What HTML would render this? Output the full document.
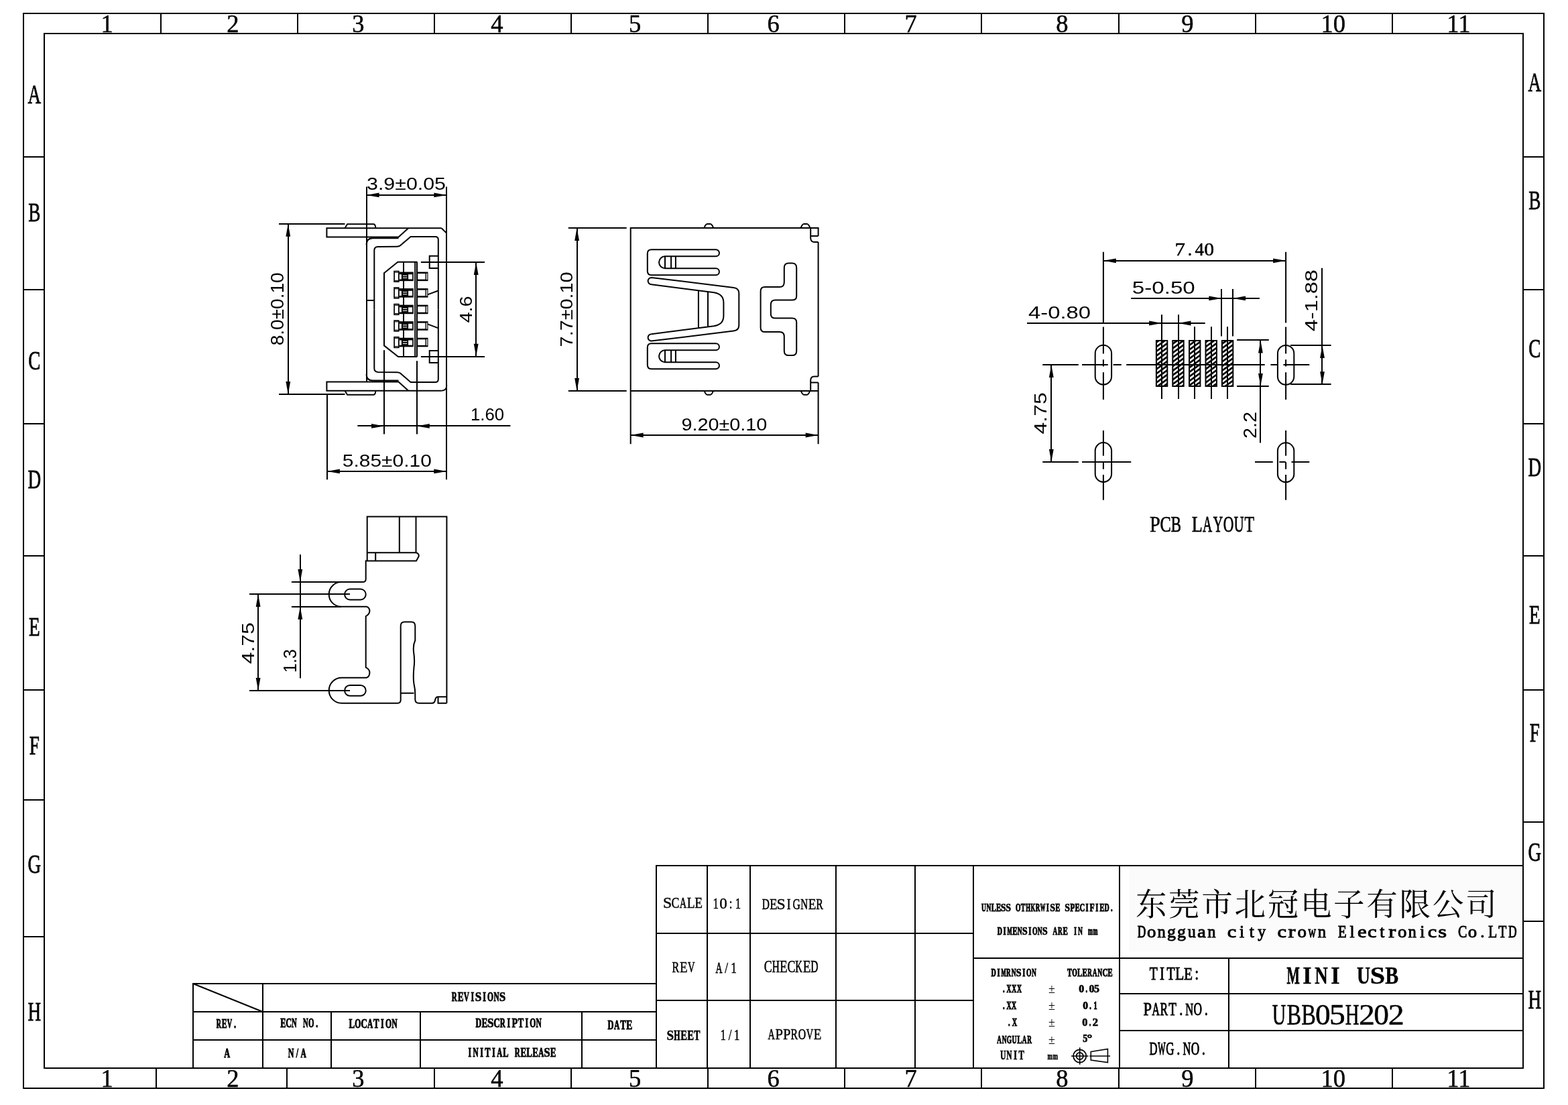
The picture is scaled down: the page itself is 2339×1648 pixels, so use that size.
<!DOCTYPE html>
<html><head><meta charset="utf-8"><title>MINI USB UBB05H202</title>
<style>
html,body{margin:0;padding:0;background:#fff}
svg{display:block;filter:grayscale(1)}
svg text{font-family:"Liberation Serif",serif;fill:#000;stroke:none}
</style></head><body>
<svg width="2339" height="1648" viewBox="0 0 2339 1648" fill="none" stroke="#000">
<defs><pattern id="hatch" patternUnits="userSpaceOnUse" width="5.4" height="10" patternTransform="rotate(54)"><rect width="2.7" height="10" fill="#000" stroke="none"/></pattern></defs>
<rect x="35" y="20" width="2268" height="1603" stroke-width="2" fill="none"/>
<rect x="66" y="50" width="2206" height="1543" stroke-width="2" fill="none"/>
<path d="M240 20L240 50" stroke-width="2"/>
<path d="M444 20L444 50" stroke-width="2"/>
<path d="M648 20L648 50" stroke-width="2"/>
<path d="M852 20L852 50" stroke-width="2"/>
<path d="M1056 20L1056 50" stroke-width="2"/>
<path d="M1260 20L1260 50" stroke-width="2"/>
<path d="M1464 20L1464 50" stroke-width="2"/>
<path d="M1669 20L1669 50" stroke-width="2"/>
<path d="M1873 20L1873 50" stroke-width="2"/>
<path d="M2077 20L2077 50" stroke-width="2"/>
<path d="M233 1593L233 1623" stroke-width="2"/>
<path d="M428 1593L428 1623" stroke-width="2"/>
<path d="M648 1593L648 1623" stroke-width="2"/>
<path d="M852 1593L852 1623" stroke-width="2"/>
<path d="M1056 1593L1056 1623" stroke-width="2"/>
<path d="M1260 1593L1260 1623" stroke-width="2"/>
<path d="M1464 1593L1464 1623" stroke-width="2"/>
<path d="M1669 1593L1669 1623" stroke-width="2"/>
<path d="M1873 1593L1873 1623" stroke-width="2"/>
<path d="M2077 1593L2077 1623" stroke-width="2"/>
<path d="M35 234L66 234" stroke-width="2"/>
<path d="M35 432L66 432" stroke-width="2"/>
<path d="M35 632L66 632" stroke-width="2"/>
<path d="M35 829L66 829" stroke-width="2"/>
<path d="M35 1029L66 1029" stroke-width="2"/>
<path d="M35 1193L66 1193" stroke-width="2"/>
<path d="M35 1397L66 1397" stroke-width="2"/>
<path d="M2272 234L2303 234" stroke-width="2"/>
<path d="M2272 432L2303 432" stroke-width="2"/>
<path d="M2272 632L2303 632" stroke-width="2"/>
<path d="M2272 829L2303 829" stroke-width="2"/>
<path d="M2272 1029L2303 1029" stroke-width="2"/>
<path d="M2272 1226L2303 1226" stroke-width="2"/>
<path d="M2272 1374L2303 1374" stroke-width="2"/>
<text transform="translate(159.6 47.7) scale(0.95 1)" font-size="38.5" text-anchor="middle" style="stroke:#000;stroke-width:0.5">1</text>
<text transform="translate(159.6 1620.9) scale(0.95 1)" font-size="38.5" text-anchor="middle" style="stroke:#000;stroke-width:0.5">1</text>
<text transform="translate(347.3 47.7) scale(0.95 1)" font-size="38.5" text-anchor="middle" style="stroke:#000;stroke-width:0.5">2</text>
<text transform="translate(347.3 1620.9) scale(0.95 1)" font-size="38.5" text-anchor="middle" style="stroke:#000;stroke-width:0.5">2</text>
<text transform="translate(534.5 47.7) scale(0.95 1)" font-size="38.5" text-anchor="middle" style="stroke:#000;stroke-width:0.5">3</text>
<text transform="translate(534.5 1620.9) scale(0.95 1)" font-size="38.5" text-anchor="middle" style="stroke:#000;stroke-width:0.5">3</text>
<text transform="translate(741.5 47.7) scale(0.95 1)" font-size="38.5" text-anchor="middle" style="stroke:#000;stroke-width:0.5">4</text>
<text transform="translate(741.5 1620.9) scale(0.95 1)" font-size="38.5" text-anchor="middle" style="stroke:#000;stroke-width:0.5">4</text>
<text transform="translate(947.1 47.7) scale(0.95 1)" font-size="38.5" text-anchor="middle" style="stroke:#000;stroke-width:0.5">5</text>
<text transform="translate(947.1 1620.9) scale(0.95 1)" font-size="38.5" text-anchor="middle" style="stroke:#000;stroke-width:0.5">5</text>
<text transform="translate(1153.6 47.7) scale(0.95 1)" font-size="38.5" text-anchor="middle" style="stroke:#000;stroke-width:0.5">6</text>
<text transform="translate(1153.6 1620.9) scale(0.95 1)" font-size="38.5" text-anchor="middle" style="stroke:#000;stroke-width:0.5">6</text>
<text transform="translate(1358.7 47.7) scale(0.95 1)" font-size="38.5" text-anchor="middle" style="stroke:#000;stroke-width:0.5">7</text>
<text transform="translate(1358.7 1620.9) scale(0.95 1)" font-size="38.5" text-anchor="middle" style="stroke:#000;stroke-width:0.5">7</text>
<text transform="translate(1584.5 47.7) scale(0.95 1)" font-size="38.5" text-anchor="middle" style="stroke:#000;stroke-width:0.5">8</text>
<text transform="translate(1584.5 1620.9) scale(0.95 1)" font-size="38.5" text-anchor="middle" style="stroke:#000;stroke-width:0.5">8</text>
<text transform="translate(1771.5 47.7) scale(0.95 1)" font-size="38.5" text-anchor="middle" style="stroke:#000;stroke-width:0.5">9</text>
<text transform="translate(1771.5 1620.9) scale(0.95 1)" font-size="38.5" text-anchor="middle" style="stroke:#000;stroke-width:0.5">9</text>
<text transform="translate(1988.8 47.7) scale(0.95 1)" font-size="38.5" text-anchor="middle" style="stroke:#000;stroke-width:0.5">10</text>
<text transform="translate(1988.8 1620.9) scale(0.95 1)" font-size="38.5" text-anchor="middle" style="stroke:#000;stroke-width:0.5">10</text>
<text transform="translate(2175.8 47.7) scale(0.95 1)" font-size="38.5" text-anchor="middle" style="stroke:#000;stroke-width:0.5">11</text>
<text transform="translate(2175.8 1620.9) scale(0.95 1)" font-size="38.5" text-anchor="middle" style="stroke:#000;stroke-width:0.5">11</text>
<text transform="translate(51.3 154) scale(0.68 1)" font-size="40" text-anchor="middle" style="stroke:#000;stroke-width:0.8">A</text>
<text transform="translate(51.3 329.8) scale(0.68 1)" font-size="40" text-anchor="middle" style="stroke:#000;stroke-width:0.8">B</text>
<text transform="translate(51.3 551) scale(0.68 1)" font-size="40" text-anchor="middle" style="stroke:#000;stroke-width:0.8">C</text>
<text transform="translate(51.3 728) scale(0.68 1)" font-size="40" text-anchor="middle" style="stroke:#000;stroke-width:0.8">D</text>
<text transform="translate(51.3 948.2) scale(0.68 1)" font-size="40" text-anchor="middle" style="stroke:#000;stroke-width:0.8">E</text>
<text transform="translate(51.3 1124.8) scale(0.68 1)" font-size="40" text-anchor="middle" style="stroke:#000;stroke-width:0.8">F</text>
<text transform="translate(51.3 1302) scale(0.68 1)" font-size="40" text-anchor="middle" style="stroke:#000;stroke-width:0.8">G</text>
<text transform="translate(51.3 1522) scale(0.68 1)" font-size="40" text-anchor="middle" style="stroke:#000;stroke-width:0.8">H</text>
<text transform="translate(2289.3 136.1) scale(0.68 1)" font-size="40" text-anchor="middle" style="stroke:#000;stroke-width:0.8">A</text>
<text transform="translate(2289.3 311.8) scale(0.68 1)" font-size="40" text-anchor="middle" style="stroke:#000;stroke-width:0.8">B</text>
<text transform="translate(2289.3 533) scale(0.68 1)" font-size="40" text-anchor="middle" style="stroke:#000;stroke-width:0.8">C</text>
<text transform="translate(2289.3 709.8) scale(0.68 1)" font-size="40" text-anchor="middle" style="stroke:#000;stroke-width:0.8">D</text>
<text transform="translate(2289.3 930) scale(0.68 1)" font-size="40" text-anchor="middle" style="stroke:#000;stroke-width:0.8">E</text>
<text transform="translate(2289.3 1106.2) scale(0.68 1)" font-size="40" text-anchor="middle" style="stroke:#000;stroke-width:0.8">F</text>
<text transform="translate(2289.3 1283.5) scale(0.68 1)" font-size="40" text-anchor="middle" style="stroke:#000;stroke-width:0.8">G</text>
<text transform="translate(2289.3 1503.5) scale(0.68 1)" font-size="40" text-anchor="middle" style="stroke:#000;stroke-width:0.8">H</text>
<rect x="1684" y="1292" width="587" height="127" fill="#fbfbfb" stroke="none"/>
<path d="M288 1593V1467H979 M288 1509H979 M288 1551H979 M392 1467V1593 M494 1509V1593 M627 1509V1593 M868 1509V1593 M288 1467L392 1509" stroke-width="2" fill="none"/>
<path d="M979 1593V1291H2272 M1055 1291V1593 M1119 1291V1593 M1247 1291V1593 M1365 1291V1593 M1452 1291V1593 M979 1392H1452 M979 1492H1452 M1452 1429H2272 M1670 1291V1593 M1833 1429V1593 M1670 1482H2272 M1670 1537H2272" stroke-width="2" fill="none"/>
<text transform="scale(0.99 1)" x="1005.78" y="1354.3" font-size="23.97" text-anchor="middle" style="stroke:#000;stroke-width:0.45">S</text>
<text transform="scale(0.74 1)" x="1361.44" y="1354.3" font-size="23.97" text-anchor="middle" style="stroke:#000;stroke-width:0.53">C</text>
<text transform="scale(0.6 1)" x="1698.14" y="1354.3" font-size="23.97" text-anchor="middle" style="stroke:#000;stroke-width:0.73">A</text>
<text transform="scale(0.81 1)" x="1272.55" y="1354.3" font-size="23.97" text-anchor="middle" style="stroke:#000;stroke-width:0.45">L</text>
<text transform="scale(0.8 1)" x="1302.78" y="1354.3" font-size="23.97" text-anchor="middle" style="stroke:#000;stroke-width:0.45">E</text>
<text transform="scale(0.72 1)" x="1482.91 1513.95 1528.95" y="1355" font-size="23.22" text-anchor="middle" style="stroke:#000;stroke-width:0.56">1:1</text>
<text transform="scale(0.99 1)" x="1089.87" y="1355" font-size="23.22" text-anchor="middle" style="stroke:#000;stroke-width:0.45">0</text>
<text transform="scale(0.64 1)" x="1784.77" y="1356" font-size="24.12" text-anchor="middle" style="stroke:#000;stroke-width:0.67">D</text>
<text transform="scale(0.79 1)" x="1460.62 1533.56" y="1356" font-size="24.12" text-anchor="middle" style="stroke:#000;stroke-width:0.46">EE</text>
<text transform="scale(0.98 1)" x="1188.93" y="1356" font-size="24.12" text-anchor="middle" style="stroke:#000;stroke-width:0.45">S</text>
<text transform="scale(0.72 1)" x="1634.35" y="1356" font-size="24.12" text-anchor="middle" style="stroke:#000;stroke-width:0.56">I</text>
<text transform="scale(0.65 1)" x="1827.98" y="1356" font-size="24.12" text-anchor="middle" style="stroke:#000;stroke-width:0.66">G</text>
<text transform="scale(0.63 1)" x="1904.35" y="1356" font-size="24.12" text-anchor="middle" style="stroke:#000;stroke-width:0.69">N</text>
<text transform="scale(0.66 1)" x="1852.45" y="1356" font-size="24.12" text-anchor="middle" style="stroke:#000;stroke-width:0.65">R</text>
<text transform="scale(0.68 1)" x="1482.25" y="1450.5" font-size="23.51" text-anchor="middle" style="stroke:#000;stroke-width:0.62">R</text>
<text transform="scale(0.81 1)" x="1259.07" y="1450.5" font-size="23.51" text-anchor="middle" style="stroke:#000;stroke-width:0.45">E</text>
<text transform="scale(0.62 1)" x="1663.15" y="1450.5" font-size="23.51" text-anchor="middle" style="stroke:#000;stroke-width:0.7">V</text>
<text transform="scale(0.58 1)" x="1849.19" y="1450.8" font-size="23.82" text-anchor="middle" style="stroke:#000;stroke-width:0.76">A</text>
<text transform="scale(0.72 1)" x="1505.07 1520.15" y="1450.8" font-size="23.82" text-anchor="middle" style="stroke:#000;stroke-width:0.56">/1</text>
<text transform="scale(0.73 1)" x="1569.58 1616.95" y="1450.5" font-size="24.43" text-anchor="middle" style="stroke:#000;stroke-width:0.55">CC</text>
<text transform="scale(0.63 1)" x="1836.82" y="1450.5" font-size="24.43" text-anchor="middle" style="stroke:#000;stroke-width:0.69">H</text>
<text transform="scale(0.78 1)" x="1498.62 1542.96" y="1450.5" font-size="24.43" text-anchor="middle" style="stroke:#000;stroke-width:0.48">EE</text>
<text transform="scale(0.61 1)" x="1953.51" y="1450.5" font-size="24.43" text-anchor="middle" style="stroke:#000;stroke-width:0.72">K</text>
<text transform="scale(0.64 1)" x="1898.32" y="1450.5" font-size="24.43" text-anchor="middle" style="stroke:#000;stroke-width:0.67">D</text>
<text transform="scale(0.92 1)" x="1086.83" y="1550.8" font-size="20.76" text-anchor="middle" font-weight="bold" style="stroke:#000;stroke-width:0.45">S</text>
<text transform="scale(0.57 1)" x="1771.87" y="1550.8" font-size="20.76" text-anchor="middle" font-weight="bold" style="stroke:#000;stroke-width:0.77">H</text>
<text transform="scale(0.71 1)" x="1436.9 1450.96" y="1550.8" font-size="20.76" text-anchor="middle" font-weight="bold" style="stroke:#000;stroke-width:0.58">EE</text>
<text transform="scale(0.66 1)" x="1575.62" y="1550.8" font-size="20.76" text-anchor="middle" font-weight="bold" style="stroke:#000;stroke-width:0.65">T</text>
<text transform="scale(0.72 1)" x="1498.15 1512.64 1526.48" y="1550.8" font-size="23.08" text-anchor="middle" style="stroke:#000;stroke-width:0.56">1/1</text>
<text transform="scale(0.6 1)" x="1917.99 2013.26" y="1550.2" font-size="23.97" text-anchor="middle" style="stroke:#000;stroke-width:0.73">AV</text>
<text transform="scale(0.86 1)" x="1351.58 1364.87" y="1550.2" font-size="23.97" text-anchor="middle" style="stroke:#000;stroke-width:0.45">PP</text>
<text transform="scale(0.66 1)" x="1795.28 1812.92" y="1550.2" font-size="23.97" text-anchor="middle" style="stroke:#000;stroke-width:0.65">RO</text>
<text transform="scale(0.79 1)" x="1543.78" y="1550.2" font-size="23.97" text-anchor="middle" style="stroke:#000;stroke-width:0.46">E</text>
<text transform="scale(0.56 1)" x="2620.48 2712.24" y="1359.2" font-size="17.1" text-anchor="middle" font-weight="bold" style="stroke:#000;stroke-width:1.04">UO</text>
<text transform="scale(0.55 1)" x="2681.42" y="1359.2" font-size="17.1" text-anchor="middle" font-weight="bold" style="stroke:#000;stroke-width:1.05">N</text>
<text transform="scale(0.62 1)" x="2390.78 2520.81 2615.53 2639.21 2674.73" y="1359.2" font-size="17.1" text-anchor="middle" font-weight="bold" style="stroke:#000;stroke-width:0.95">LIII.</text>
<text transform="scale(0.63 1)" x="2364.57 2504.39 2551 2562.59 2609.26" y="1359.2" font-size="17.1" text-anchor="middle" font-weight="bold" style="stroke:#000;stroke-width:0.94">EEECE</text>
<text transform="scale(0.82 1)" x="1825.31 1834.27 1914.84 1941.69" y="1359.2" font-size="17.1" text-anchor="middle" font-weight="bold" style="stroke:#000;stroke-width:0.7">SSSS</text>
<text transform="scale(0.59 1)" x="2586.77" y="1359.2" font-size="17.1" text-anchor="middle" font-weight="bold" style="stroke:#000;stroke-width:0.99">T</text>
<text transform="scale(0.51 1)" x="3006.93" y="1359.2" font-size="17.1" text-anchor="middle" font-weight="bold" style="stroke:#000;stroke-width:1.11">H</text>
<text transform="scale(0.5 1)" x="3081.68" y="1359.2" font-size="17.1" text-anchor="middle" font-weight="bold" style="stroke:#000;stroke-width:1.12">K</text>
<text transform="scale(0.53 1)" x="2920.95" y="1359.2" font-size="17.1" text-anchor="middle" font-weight="bold" style="stroke:#000;stroke-width:1.08">R</text>
<text transform="scale(0.45 1)" x="3456.81" y="1359.2" font-size="17.1" text-anchor="middle" font-weight="bold" style="stroke:#000;stroke-width:1.19">W</text>
<text transform="scale(0.67 1)" x="2387.56" y="1359.2" font-size="17.1" text-anchor="middle" font-weight="bold" style="stroke:#000;stroke-width:0.88">P</text>
<text transform="scale(0.69 1)" x="2361.09" y="1359.2" font-size="17.1" text-anchor="middle" font-weight="bold" style="stroke:#000;stroke-width:0.85">F</text>
<text transform="scale(0.58 1)" x="2846.8" y="1359.2" font-size="17.1" text-anchor="middle" font-weight="bold" style="stroke:#000;stroke-width:1.01">D</text>
<text transform="scale(0.59 1)" x="2527.66" y="1394" font-size="17.1" text-anchor="middle" font-weight="bold" style="stroke:#000;stroke-width:0.99">D</text>
<text transform="scale(0.62 1)" x="2417.24 2477.92 2587.16" y="1394" font-size="17.1" text-anchor="middle" font-weight="bold" style="stroke:#000;stroke-width:0.95">III</text>
<text transform="scale(0.45 1)" x="3347.24" y="1394" font-size="17.1" text-anchor="middle" font-weight="bold" style="stroke:#000;stroke-width:1.19">M</text>
<text transform="scale(0.65 1)" x="2329.12 2444.89" y="1394" font-size="17.1" text-anchor="middle" font-weight="bold" style="stroke:#000;stroke-width:0.91">EE</text>
<text transform="scale(0.56 1)" x="2716.49 2770.24 2877.74" y="1394" font-size="17.1" text-anchor="middle" font-weight="bold" style="stroke:#000;stroke-width:1.04">NNN</text>
<text transform="scale(0.84 1)" x="1819.89 1855.73" y="1394" font-size="17.1" text-anchor="middle" font-weight="bold" style="stroke:#000;stroke-width:0.7">SS</text>
<text transform="scale(0.57 1)" x="2708.49" y="1394" font-size="17.1" text-anchor="middle" font-weight="bold" style="stroke:#000;stroke-width:1.02">O</text>
<text transform="scale(0.55 1)" x="2861.68" y="1394" font-size="17.1" text-anchor="middle" font-weight="bold" style="stroke:#000;stroke-width:1.05">A</text>
<text transform="scale(0.54 1)" x="2928.41" y="1394" font-size="17.1" text-anchor="middle" font-weight="bold" style="stroke:#000;stroke-width:1.06">R</text>
<text transform="scale(0.49 1)" x="3319.53 3334.89" y="1394" font-size="17.1" text-anchor="middle" font-weight="bold" style="stroke:#000;stroke-width:1.13">mm</text>
<text transform="scale(0.59 1)" x="2511.94" y="1456.3" font-size="17.1" text-anchor="middle" font-weight="bold" style="stroke:#000;stroke-width:0.99">D</text>
<text transform="scale(0.62 1)" x="2402.34 2463.36" y="1456.3" font-size="17.1" text-anchor="middle" font-weight="bold" style="stroke:#000;stroke-width:0.95">II</text>
<text transform="scale(0.45 1)" x="3326.8" y="1456.3" font-size="17.1" text-anchor="middle" font-weight="bold" style="stroke:#000;stroke-width:1.19">M</text>
<text transform="scale(0.55 1)" x="2735.39" y="1456.3" font-size="17.1" text-anchor="middle" font-weight="bold" style="stroke:#000;stroke-width:1.05">R</text>
<text transform="scale(0.56 1)" x="2700.22 2754.26" y="1456.3" font-size="17.1" text-anchor="middle" font-weight="bold" style="stroke:#000;stroke-width:1.04">NN</text>
<text transform="scale(0.85 1)" x="1787.81" y="1456.3" font-size="17.1" text-anchor="middle" font-weight="bold" style="stroke:#000;stroke-width:0.7">S</text>
<text transform="scale(0.57 1)" x="2692.72" y="1456.3" font-size="17.1" text-anchor="middle" font-weight="bold" style="stroke:#000;stroke-width:1.02">O</text>
<text transform="scale(0.61 1)" x="2615.52" y="1456.3" font-size="17.1" text-anchor="middle" font-weight="bold" style="stroke:#000;stroke-width:0.97">T</text>
<text transform="scale(0.57 1)" x="2812.31" y="1456.3" font-size="17.1" text-anchor="middle" font-weight="bold" style="stroke:#000;stroke-width:1.02">O</text>
<text transform="scale(0.64 1)" x="2516.71" y="1456.3" font-size="17.1" text-anchor="middle" font-weight="bold" style="stroke:#000;stroke-width:0.92">L</text>
<text transform="scale(0.65 1)" x="2489.68 2536.05 2547.72" y="1456.3" font-size="17.1" text-anchor="middle" font-weight="bold" style="stroke:#000;stroke-width:0.91">ECE</text>
<text transform="scale(0.54 1)" x="3010.24" y="1456.3" font-size="17.1" text-anchor="middle" font-weight="bold" style="stroke:#000;stroke-width:1.06">R</text>
<text transform="scale(0.55 1)" x="2969.42" y="1456.3" font-size="17.1" text-anchor="middle" font-weight="bold" style="stroke:#000;stroke-width:1.05">A</text>
<text transform="scale(0.56 1)" x="2929.84" y="1456.3" font-size="17.1" text-anchor="middle" font-weight="bold" style="stroke:#000;stroke-width:1.04">N</text>
<text transform="scale(0.62 1)" x="2414.94" y="1480.3" font-size="17.1" text-anchor="middle" font-weight="bold" style="stroke:#000;stroke-width:0.95">.</text>
<text transform="scale(0.57 1)" x="2640.27 2653.82 2667.38" y="1480.3" font-size="17.1" text-anchor="middle" font-weight="bold" style="stroke:#000;stroke-width:1.02">XXX</text>
<text transform="scale(0.62 1)" x="2414.95" y="1505.4" font-size="17.1" text-anchor="middle" font-weight="bold" style="stroke:#000;stroke-width:0.95">.</text>
<text transform="scale(0.58 1)" x="2594.77 2608.1" y="1505.4" font-size="17.1" text-anchor="middle" font-weight="bold" style="stroke:#000;stroke-width:1.01">XX</text>
<text transform="scale(0.62 1)" x="2428.15" y="1530.4" font-size="17.1" text-anchor="middle" font-weight="bold" style="stroke:#000;stroke-width:0.95">.</text>
<text transform="scale(0.6 1)" x="2522.52" y="1530.4" font-size="17.1" text-anchor="middle" font-weight="bold" style="stroke:#000;stroke-width:0.98">X</text>
<text transform="scale(0.96 1)" x="1680.43 1696.32 1704.23" y="1480.3" font-size="16.57" text-anchor="middle" font-weight="bold" style="stroke:#000;stroke-width:0.7">005</text>
<text transform="scale(0.62 1)" x="2614.25" y="1480.3" font-size="16.57" text-anchor="middle" font-weight="bold" style="stroke:#000;stroke-width:0.95">.</text>
<text transform="scale(0.94 1)" x="1722.5" y="1505.4" font-size="16.57" text-anchor="middle" font-weight="bold" style="stroke:#000;stroke-width:0.7">0</text>
<text transform="scale(0.62 1)" x="2623.63 2635.49" y="1505.4" font-size="16.57" text-anchor="middle" font-weight="bold" style="stroke:#000;stroke-width:0.95">.1</text>
<text transform="scale(0.98 1)" x="1651.34" y="1530.4" font-size="16.57" text-anchor="middle" font-weight="bold" style="stroke:#000;stroke-width:0.7">0</text>
<text transform="scale(0.62 1)" x="2622.82" y="1530.4" font-size="16.57" text-anchor="middle" font-weight="bold" style="stroke:#000;stroke-width:0.95">.</text>
<text transform="scale(1.0 1)" x="1633.99" y="1530.4" font-size="16.57" text-anchor="middle" font-weight="bold" style="stroke:#000;stroke-width:0.7">2</text>
<text transform="scale(0.53 1)" x="2812.53 2883.28 2897.23" y="1556.5" font-size="17.56" text-anchor="middle" font-weight="bold" style="stroke:#000;stroke-width:1.08">AAR</text>
<text transform="scale(0.54 1)" x="2774.3 2788.05" y="1556.5" font-size="17.56" text-anchor="middle" font-weight="bold" style="stroke:#000;stroke-width:1.06">NG</text>
<text transform="scale(0.56 1)" x="2702.05" y="1556.5" font-size="17.56" text-anchor="middle" font-weight="bold" style="stroke:#000;stroke-width:1.04">U</text>
<text transform="scale(0.62 1)" x="2452.88" y="1556.5" font-size="17.56" text-anchor="middle" font-weight="bold" style="stroke:#000;stroke-width:0.95">L</text>
<text transform="scale(0.85 1)" x="1904.41" y="1554" font-size="16.57" text-anchor="middle" font-weight="bold" style="stroke:#000;stroke-width:0.7">5</text>
<text transform="scale(1.18 1)" x="1377.57" y="1554" font-size="16.57" text-anchor="middle" font-weight="bold" style="stroke:#000;stroke-width:0.7">°</text>
<text transform="scale(0.64 1)" x="2338.16" y="1580.5" font-size="18.63" text-anchor="middle" font-weight="bold" style="stroke:#000;stroke-width:0.67">U</text>
<text transform="scale(0.62 1)" x="2428.13" y="1580.5" font-size="18.63" text-anchor="middle" font-weight="bold" style="stroke:#000;stroke-width:0.7">N</text>
<text transform="scale(0.8 1)" x="1893.16" y="1580.5" font-size="18.63" text-anchor="middle" font-weight="bold" style="stroke:#000;stroke-width:0.45">I</text>
<text transform="scale(0.67 1)" x="2273.99" y="1580.5" font-size="18.63" text-anchor="middle" font-weight="bold" style="stroke:#000;stroke-width:0.63">T</text>
<text transform="scale(0.62 1)" x="2526.38 2539.28" y="1580.5" font-size="14.5" text-anchor="middle" font-weight="bold" style="stroke:#000;stroke-width:0.7">mm</text>
<text transform="translate(1569 1480.5) scale(0.95 1)" font-size="19" text-anchor="middle">±</text>
<text transform="translate(1569 1505.5) scale(0.95 1)" font-size="19" text-anchor="middle">±</text>
<text transform="translate(1569 1530.5) scale(0.95 1)" font-size="19" text-anchor="middle">±</text>
<text transform="translate(1569 1556.5) scale(0.95 1)" font-size="19" text-anchor="middle">±</text>
<text transform="scale(0.75 1)" x="2294.3 2328.66" y="1461.3" font-size="26.26" text-anchor="middle" style="stroke:#000;stroke-width:0.87">TT</text>
<text transform="scale(0.8 1)" x="2167.02 2231.47" y="1461.3" font-size="26.26" text-anchor="middle" style="stroke:#000;stroke-width:0.8">I:</text>
<text transform="scale(0.83 1)" x="2120.16" y="1461.3" font-size="26.26" text-anchor="middle" style="stroke:#000;stroke-width:0.8">L</text>
<text transform="scale(0.81 1)" x="2188.27" y="1461.3" font-size="26.26" text-anchor="middle" style="stroke:#000;stroke-width:0.8">E</text>
<text transform="scale(0.86 1)" x="1990.34" y="1514.4" font-size="26.26" text-anchor="middle" style="stroke:#000;stroke-width:0.8">P</text>
<text transform="scale(0.6 1)" x="2873.48" y="1514.4" font-size="26.26" text-anchor="middle" style="stroke:#000;stroke-width:1.08">A</text>
<text transform="scale(0.66 1)" x="2630.92 2707.26" y="1514.4" font-size="26.26" text-anchor="middle" style="stroke:#000;stroke-width:1">RO</text>
<text transform="scale(0.73 1)" x="2396.12" y="1514.4" font-size="26.26" text-anchor="middle" style="stroke:#000;stroke-width:0.9">T</text>
<text transform="scale(0.78 1)" x="2258.61 2306.83" y="1514.4" font-size="26.26" text-anchor="middle" style="stroke:#000;stroke-width:0.83">..</text>
<text transform="scale(0.63 1)" x="2816.2" y="1514.4" font-size="26.26" text-anchor="middle" style="stroke:#000;stroke-width:1.04">N</text>
<text transform="scale(0.63 1)" x="2731.16" y="1573" font-size="26.56" text-anchor="middle" style="stroke:#000;stroke-width:1.04">D</text>
<text transform="scale(0.45 1)" x="3851.14" y="1573" font-size="26.56" text-anchor="middle" style="stroke:#000;stroke-width:1.29">W</text>
<text transform="scale(0.64 1)" x="2727.18" y="1573" font-size="26.56" text-anchor="middle" style="stroke:#000;stroke-width:1.02">G</text>
<text transform="scale(0.78 1)" x="2253.78 2301.75" y="1573" font-size="26.56" text-anchor="middle" style="stroke:#000;stroke-width:0.83">..</text>
<text transform="scale(0.62 1)" x="2855.44" y="1573" font-size="26.56" text-anchor="middle" style="stroke:#000;stroke-width:1.05">N</text>
<text transform="scale(0.65 1)" x="2742.91" y="1573" font-size="26.56" text-anchor="middle" style="stroke:#000;stroke-width:1.01">O</text>
<text transform="scale(0.57 1)" x="3384.27" y="1466.8" font-size="35.88" text-anchor="middle" font-weight="bold" style="stroke:#000;stroke-width:0.77">M</text>
<text transform="scale(0.95 1)" x="2052.57 2096.83" y="1466.8" font-size="35.88" text-anchor="middle" font-weight="bold" style="stroke:#000;stroke-width:0.45">II</text>
<text transform="scale(0.75 1)" x="2627.85" y="1466.8" font-size="35.88" text-anchor="middle" font-weight="bold" style="stroke:#000;stroke-width:0.52">N</text>
<text transform="scale(0.77 1)" x="2641.61" y="1466.8" font-size="35.88" text-anchor="middle" font-weight="bold" style="stroke:#000;stroke-width:0.49">U</text>
<text transform="scale(1.12 1)" x="1834.68" y="1466.8" font-size="35.88" text-anchor="middle" font-weight="bold" style="stroke:#000;stroke-width:0.45">S</text>
<text transform="scale(0.83 1)" x="2501.51" y="1466.8" font-size="35.88" text-anchor="middle" font-weight="bold" style="stroke:#000;stroke-width:0.45">B</text>
<text transform="scale(0.63 1)" x="3028.72" y="1527.7" font-size="44.89" text-anchor="middle" style="stroke:#000;stroke-width:0.69">U</text>
<text transform="scale(0.72 1)" x="2680.85 2711.11" y="1527.7" font-size="44.89" text-anchor="middle" style="stroke:#000;stroke-width:0.56">BB</text>
<text transform="scale(1.01 1)" x="1953.92 2040.21" y="1527.7" font-size="44.89" text-anchor="middle" style="stroke:#000;stroke-width:0.45">00</text>
<text transform="scale(1.06 1)" x="1881.88" y="1527.7" font-size="44.89" text-anchor="middle" style="stroke:#000;stroke-width:0.45">5</text>
<text transform="scale(0.64 1)" x="3151.63" y="1527.7" font-size="44.89" text-anchor="middle" style="stroke:#000;stroke-width:0.67">H</text>
<text transform="scale(1.07 1)" x="1905.7 1946.42" y="1527.7" font-size="44.89" text-anchor="middle" style="stroke:#000;stroke-width:0.45">22</text>
<text transform="scale(0.69 1)" x="2468.08 3270.17" y="1398.3" font-size="25.34" text-anchor="middle" style="stroke:#000;stroke-width:1.05">DD</text>
<text transform="scale(1.06 1)" x="1620.6 1832.27 1973.38 2072.16" y="1398.3" font-size="25.34" text-anchor="middle" style="stroke:#000;stroke-width:0.9">oooo</text>
<text transform="scale(0.97 1)" x="1786.29 1863.39 2033.02 2171.8" y="1398.3" font-size="25.34" text-anchor="middle" style="stroke:#000;stroke-width:0.9">nnnn</text>
<text transform="scale(1.02 1)" x="1713.18 1727.84" y="1398.3" font-size="25.34" text-anchor="middle" style="stroke:#000;stroke-width:0.9">gg</text>
<text transform="scale(0.95 1)" x="1871.28" y="1398.3" font-size="25.34" text-anchor="middle" style="stroke:#000;stroke-width:0.9">u</text>
<text transform="scale(1.14 1)" x="1572.21" y="1398.3" font-size="25.34" text-anchor="middle" style="stroke:#000;stroke-width:0.9">a</text>
<text transform="scale(1.2 1)" x="1531.16 1593.48 1705.67 1780.46" y="1398.3" font-size="25.34" text-anchor="middle" style="stroke:#000;stroke-width:0.9">cccc</text>
<text transform="scale(1.0 1)" x="1852.43 1867.37 2016.99 2061.82 2121.68 2211.45" y="1398.3" font-size="25.34" text-anchor="middle" style="stroke:#000;stroke-width:0.9">itlti.</text>
<text transform="scale(0.93 1)" x="2023.95" y="1398.3" font-size="25.34" text-anchor="middle" style="stroke:#000;stroke-width:0.9">y</text>
<text transform="scale(1.3 1)" x="1482.36 1597.42 1655.03" y="1398.3" font-size="25.34" text-anchor="middle" style="stroke:#000;stroke-width:0.9">rrs</text>
<text transform="scale(0.63 1)" x="3106.65" y="1398.3" font-size="25.34" text-anchor="middle" style="stroke:#000;stroke-width:1.14">w</text>
<text transform="scale(0.84 1)" x="2383.64" y="1398.3" font-size="25.34" text-anchor="middle" style="stroke:#000;stroke-width:0.9">E</text>
<text transform="scale(1.21 1)" x="1679.24" y="1398.3" font-size="25.34" text-anchor="middle" style="stroke:#000;stroke-width:0.9">e</text>
<text transform="scale(0.79 1)" x="2761.61" y="1398.3" font-size="25.34" text-anchor="middle" style="stroke:#000;stroke-width:0.91">C</text>
<text transform="scale(0.86 1)" x="2589.24" y="1398.3" font-size="25.34" text-anchor="middle" style="stroke:#000;stroke-width:0.9">L</text>
<text transform="scale(0.78 1)" x="2873.52" y="1398.3" font-size="25.34" text-anchor="middle" style="stroke:#000;stroke-width:0.93">T</text>
<text transform="scale(0.56 1)" x="1210.24" y="1493.2" font-size="19.54" text-anchor="middle" font-weight="bold" style="stroke:#000;stroke-width:1.04">R</text>
<text transform="scale(0.67 1)" x="1025.46" y="1493.2" font-size="19.54" text-anchor="middle" font-weight="bold" style="stroke:#000;stroke-width:0.88">E</text>
<text transform="scale(0.58 1)" x="1199.64 1276.78" y="1493.2" font-size="19.54" text-anchor="middle" font-weight="bold" style="stroke:#000;stroke-width:1.01">VN</text>
<text transform="scale(0.62 1)" x="1136.68 1165.57" y="1493.2" font-size="19.54" text-anchor="middle" font-weight="bold" style="stroke:#000;stroke-width:0.95">II</text>
<text transform="scale(0.88 1)" x="810.92 851.63" y="1493.2" font-size="19.54" text-anchor="middle" font-weight="bold" style="stroke:#000;stroke-width:0.7">SS</text>
<text transform="scale(0.59 1)" x="1240.02" y="1493.2" font-size="19.54" text-anchor="middle" font-weight="bold" style="stroke:#000;stroke-width:0.99">O</text>
<text transform="scale(0.51 1)" x="639.77" y="1533" font-size="19.54" text-anchor="middle" font-weight="bold" style="stroke:#000;stroke-width:1.11">R</text>
<text transform="scale(0.6 1)" x="557.73" y="1533" font-size="19.54" text-anchor="middle" font-weight="bold" style="stroke:#000;stroke-width:0.98">E</text>
<text transform="scale(0.52 1)" x="658.58" y="1533" font-size="19.54" text-anchor="middle" font-weight="bold" style="stroke:#000;stroke-width:1.09">V</text>
<text transform="scale(0.62 1)" x="565.3" y="1533" font-size="19.54" text-anchor="middle" font-weight="bold" style="stroke:#000;stroke-width:0.95">.</text>
<text transform="scale(0.63 1)" x="670.51 683.8" y="1532" font-size="19.54" text-anchor="middle" font-weight="bold" style="stroke:#000;stroke-width:0.94">EC</text>
<text transform="scale(0.55 1)" x="798.19 828.79" y="1532" font-size="19.54" text-anchor="middle" font-weight="bold" style="stroke:#000;stroke-width:1.05">NN</text>
<text transform="scale(0.56 1)" x="829.07" y="1532" font-size="19.54" text-anchor="middle" font-weight="bold" style="stroke:#000;stroke-width:1.04">O</text>
<text transform="scale(0.62 1)" x="762.41" y="1532" font-size="19.54" text-anchor="middle" font-weight="bold" style="stroke:#000;stroke-width:0.95">.</text>
<text transform="scale(0.69 1)" x="760.76" y="1533.3" font-size="19.24" text-anchor="middle" font-weight="bold" style="stroke:#000;stroke-width:0.85">L</text>
<text transform="scale(0.61 1)" x="875.23 950.02 964.92" y="1533.3" font-size="19.24" text-anchor="middle" font-weight="bold" style="stroke:#000;stroke-width:0.97">OON</text>
<text transform="scale(0.7 1)" x="775.99" y="1533.3" font-size="19.24" text-anchor="middle" font-weight="bold" style="stroke:#000;stroke-width:0.84">C</text>
<text transform="scale(0.59 1)" x="935.8" y="1533.3" font-size="19.24" text-anchor="middle" font-weight="bold" style="stroke:#000;stroke-width:0.99">A</text>
<text transform="scale(0.66 1)" x="850.39" y="1533.3" font-size="19.24" text-anchor="middle" font-weight="bold" style="stroke:#000;stroke-width:0.9">T</text>
<text transform="scale(0.62 1)" x="919.98" y="1533.3" font-size="19.24" text-anchor="middle" font-weight="bold" style="stroke:#000;stroke-width:0.95">I</text>
<text transform="scale(0.62 1)" x="1151.59 1223.87 1267.42" y="1532.2" font-size="19.54" text-anchor="middle" font-weight="bold" style="stroke:#000;stroke-width:0.95">DII</text>
<text transform="scale(0.68 1)" x="1063.27 1089.68" y="1532.2" font-size="19.54" text-anchor="middle" font-weight="bold" style="stroke:#000;stroke-width:0.87">EC</text>
<text transform="scale(0.88 1)" x="831.49" y="1532.2" font-size="19.54" text-anchor="middle" font-weight="bold" style="stroke:#000;stroke-width:0.7">S</text>
<text transform="scale(0.57 1)" x="1315.19" y="1532.2" font-size="19.54" text-anchor="middle" font-weight="bold" style="stroke:#000;stroke-width:1.02">R</text>
<text transform="scale(0.72 1)" x="1066.5" y="1532.2" font-size="19.54" text-anchor="middle" font-weight="bold" style="stroke:#000;stroke-width:0.81">P</text>
<text transform="scale(0.64 1)" x="1213.75" y="1532.2" font-size="19.54" text-anchor="middle" font-weight="bold" style="stroke:#000;stroke-width:0.92">T</text>
<text transform="scale(0.6 1)" x="1324.67" y="1532.2" font-size="19.54" text-anchor="middle" font-weight="bold" style="stroke:#000;stroke-width:0.98">O</text>
<text transform="scale(0.59 1)" x="1362.32" y="1532.2" font-size="19.54" text-anchor="middle" font-weight="bold" style="stroke:#000;stroke-width:0.99">N</text>
<text transform="scale(0.64 1)" x="1423.62" y="1534.7" font-size="19.54" text-anchor="middle" font-weight="bold" style="stroke:#000;stroke-width:0.92">D</text>
<text transform="scale(0.59 1)" x="1559.59" y="1534.7" font-size="19.54" text-anchor="middle" font-weight="bold" style="stroke:#000;stroke-width:0.99">A</text>
<text transform="scale(0.65 1)" x="1429.88" y="1534.7" font-size="19.54" text-anchor="middle" font-weight="bold" style="stroke:#000;stroke-width:0.91">T</text>
<text transform="scale(0.7 1)" x="1341.3" y="1534.7" font-size="19.54" text-anchor="middle" font-weight="bold" style="stroke:#000;stroke-width:0.84">E</text>
<text transform="scale(0.66 1)" x="513.08" y="1576.7" font-size="18.63" text-anchor="middle" font-weight="bold" style="stroke:#000;stroke-width:0.9">A</text>
<text transform="scale(0.63 1)" x="688.91" y="1576.7" font-size="18.93" text-anchor="middle" font-weight="bold" style="stroke:#000;stroke-width:0.94">N</text>
<text transform="scale(0.62 1)" x="715.08" y="1576.7" font-size="18.93" text-anchor="middle" font-weight="bold" style="stroke:#000;stroke-width:0.95">/</text>
<text transform="scale(0.61 1)" x="742.03" y="1576.7" font-size="18.93" text-anchor="middle" font-weight="bold" style="stroke:#000;stroke-width:0.97">A</text>
<text transform="scale(0.62 1)" x="1130.38 1158.98 1187.58" y="1575.9" font-size="19.54" text-anchor="middle" font-weight="bold" style="stroke:#000;stroke-width:0.95">III</text>
<text transform="scale(0.58 1)" x="1223.56" y="1575.9" font-size="19.54" text-anchor="middle" font-weight="bold" style="stroke:#000;stroke-width:1.01">N</text>
<text transform="scale(0.63 1)" x="1154.65" y="1575.9" font-size="19.54" text-anchor="middle" font-weight="bold" style="stroke:#000;stroke-width:0.94">T</text>
<text transform="scale(0.57 1)" x="1307.29 1416.18" y="1575.9" font-size="19.54" text-anchor="middle" font-weight="bold" style="stroke:#000;stroke-width:1.02">AA</text>
<text transform="scale(0.66 1)" x="1142.72 1196.45" y="1575.9" font-size="19.54" text-anchor="middle" font-weight="bold" style="stroke:#000;stroke-width:0.9">LL</text>
<text transform="scale(0.56 1)" x="1377.9" y="1575.9" font-size="19.54" text-anchor="middle" font-weight="bold" style="stroke:#000;stroke-width:1.04">R</text>
<text transform="scale(0.67 1)" x="1165.46 1191.92 1231.63" y="1575.9" font-size="19.54" text-anchor="middle" font-weight="bold" style="stroke:#000;stroke-width:0.88">EEE</text>
<text transform="scale(0.87 1)" x="937.94" y="1575.9" font-size="19.54" text-anchor="middle" font-weight="bold" style="stroke:#000;stroke-width:0.7">S</text>
<circle cx="1610.7" cy="1575" r="9.6" stroke-width="1.8"/><circle cx="1610.7" cy="1575" r="5.2" stroke-width="1.8"/>
<path d="M1598 1575H1623.5 M1610.7 1562.3V1587.7" stroke-width="1.6" fill="none"/>
<path d="M1627.3 1568.5L1652.4 1564.5V1584.5L1627.3 1581Z M1625.3 1575H1656" stroke-width="1.6" fill="none"/>
<text x="1693.9 1743.1 1792.3 1841.5 1890.7 1939.9 1989.1 2038.3 2087.5 2136.7 2185.9" y="1365" font-size="46.6" text-anchor="start" style="font-family:'Liberation Serif','Noto Serif CJK SC',serif">东莞市北冠电子有限公司</text>
<path d="M547 278.4L547 569.5" stroke-width="2.0"/>
<path d="M666 278.4L666 715.3" stroke-width="2.0"/>
<g><path d="M658.6 340.2H487.4V353.4H594.5L609 340.4" stroke-width="2"/><path d="M594.5 355.2H556 Q546.6 355.6 546.6 365" stroke-width="2.2"/><path d="M653.8 461.45V357.4Q653.8 352.9 649.3 352.9H612.6L597 366.3Q595.5 367.6 592 367.7L563.6 368Q558.3 368.2 558.3 373.6V461.45" stroke-width="2"/><path d="M514.5 340.2L518.1 334.2H557.4Q559.8 334.6 560.4 339.6" stroke-width="2"/><path d="M653.8 381.8H640.7V400H653.8" stroke-width="2"/></g>
<g transform="translate(0 922.9) scale(1 -1)"><path d="M658.6 340.2H487.4V353.4H594.5L609 340.4" stroke-width="2"/><path d="M594.5 355.2H556 Q546.6 355.6 546.6 365" stroke-width="2.2"/><path d="M653.8 461.45V357.4Q653.8 352.9 649.3 352.9H612.6L597 366.3Q595.5 367.6 592 367.7L563.6 368Q558.3 368.2 558.3 373.6V461.45" stroke-width="2"/><path d="M514.5 340.2L518.1 334.2H557.4Q559.8 334.6 560.4 339.6" stroke-width="2"/><path d="M653.8 381.8H640.7V400H653.8" stroke-width="2"/></g>
<path d="M666.3 347.9L658.6 340.2 M658.6 582.7Q666.3 582.7 666.3 574.5" stroke-width="2.0" fill="none"/>
<path d="M546.6 448L558.3 448" stroke-width="2.0"/>
<path d="M622.4 390.8H593.4L573 407.3V515.4L594 532H622.4 M602 390.8V532 M619.2 390.8V532 M622 390.8V532" stroke-width="2.0" fill="none"/>
<path d="M637.9 439.4L653.8 433.5 M637.9 483.4L653.8 489.4" stroke-width="2.0" fill="none"/>
<rect x="595.6" y="405.55" width="21.2" height="13.6" fill="#000" stroke="none"/>
<rect x="595.6" y="409.25" width="3.3" height="7.2" fill="#fff" stroke="none"/>
<rect x="609.1" y="409.25" width="6" height="7.2" fill="#fff" stroke="none"/>
<rect x="600.9" y="410.65" width="6.4" height="1.1" fill="#fff" stroke="none"/>
<rect x="600.9" y="413.75" width="6.4" height="1.1" fill="#fff" stroke="none"/>
<rect x="588.1" y="404.55" width="6.7" height="15.6" fill="#fff" stroke-width="1.7"/>
<path d="M589 406.25H595.6 M589 418.45H595.6" stroke-width="1.0" fill="none"/>
<rect x="622.3" y="405.55" width="16.2" height="13.6" fill="#000" stroke="none"/>
<rect x="623.2" y="408.05" width="11.3" height="8.6" fill="#fff" stroke="none"/>
<rect x="635.9" y="407.75" width="1.4" height="9.2" fill="#fff" stroke="none"/>
<rect x="595.6" y="430.1" width="21.2" height="13.6" fill="#000" stroke="none"/>
<rect x="595.6" y="433.8" width="3.3" height="7.2" fill="#fff" stroke="none"/>
<rect x="609.1" y="433.8" width="6" height="7.2" fill="#fff" stroke="none"/>
<rect x="600.9" y="435.2" width="6.4" height="1.1" fill="#fff" stroke="none"/>
<rect x="600.9" y="438.3" width="6.4" height="1.1" fill="#fff" stroke="none"/>
<rect x="588.1" y="429.1" width="6.7" height="15.6" fill="#fff" stroke-width="1.7"/>
<path d="M589 430.8H595.6 M589 443H595.6" stroke-width="1.0" fill="none"/>
<rect x="622.3" y="430.1" width="16.2" height="13.6" fill="#000" stroke="none"/>
<rect x="623.2" y="432.6" width="11.3" height="8.6" fill="#fff" stroke="none"/>
<rect x="635.9" y="432.3" width="1.4" height="9.2" fill="#fff" stroke="none"/>
<rect x="595.6" y="454.65" width="21.2" height="13.6" fill="#000" stroke="none"/>
<rect x="595.6" y="458.35" width="3.3" height="7.2" fill="#fff" stroke="none"/>
<rect x="609.1" y="458.35" width="6" height="7.2" fill="#fff" stroke="none"/>
<rect x="600.9" y="459.75" width="6.4" height="1.1" fill="#fff" stroke="none"/>
<rect x="600.9" y="462.85" width="6.4" height="1.1" fill="#fff" stroke="none"/>
<rect x="588.1" y="453.65" width="6.7" height="15.6" fill="#fff" stroke-width="1.7"/>
<path d="M589 455.35H595.6 M589 467.55H595.6" stroke-width="1.0" fill="none"/>
<rect x="622.3" y="454.65" width="16.2" height="13.6" fill="#000" stroke="none"/>
<rect x="623.2" y="457.15" width="11.3" height="8.6" fill="#fff" stroke="none"/>
<rect x="635.9" y="456.85" width="1.4" height="9.2" fill="#fff" stroke="none"/>
<rect x="595.6" y="479.2" width="21.2" height="13.6" fill="#000" stroke="none"/>
<rect x="595.6" y="482.9" width="3.3" height="7.2" fill="#fff" stroke="none"/>
<rect x="609.1" y="482.9" width="6" height="7.2" fill="#fff" stroke="none"/>
<rect x="600.9" y="484.3" width="6.4" height="1.1" fill="#fff" stroke="none"/>
<rect x="600.9" y="487.4" width="6.4" height="1.1" fill="#fff" stroke="none"/>
<rect x="588.1" y="478.2" width="6.7" height="15.6" fill="#fff" stroke-width="1.7"/>
<path d="M589 479.9H595.6 M589 492.1H595.6" stroke-width="1.0" fill="none"/>
<rect x="622.3" y="479.2" width="16.2" height="13.6" fill="#000" stroke="none"/>
<rect x="623.2" y="481.7" width="11.3" height="8.6" fill="#fff" stroke="none"/>
<rect x="635.9" y="481.4" width="1.4" height="9.2" fill="#fff" stroke="none"/>
<rect x="595.6" y="503.75" width="21.2" height="13.6" fill="#000" stroke="none"/>
<rect x="595.6" y="507.45" width="3.3" height="7.2" fill="#fff" stroke="none"/>
<rect x="609.1" y="507.45" width="6" height="7.2" fill="#fff" stroke="none"/>
<rect x="600.9" y="508.85" width="6.4" height="1.1" fill="#fff" stroke="none"/>
<rect x="600.9" y="511.95" width="6.4" height="1.1" fill="#fff" stroke="none"/>
<rect x="588.1" y="502.75" width="6.7" height="15.6" fill="#fff" stroke-width="1.7"/>
<path d="M589 504.45H595.6 M589 516.65H595.6" stroke-width="1.0" fill="none"/>
<rect x="622.3" y="503.75" width="16.2" height="13.6" fill="#000" stroke="none"/>
<rect x="623.2" y="506.25" width="11.3" height="8.6" fill="#fff" stroke="none"/>
<rect x="635.9" y="505.95" width="1.4" height="9.2" fill="#fff" stroke="none"/>
<path d="M546.6 291L666.3 291" stroke-width="2.0"/>
<path d="M546.6 290.9L565.6 287.5L565.6 294.3Z" fill="#000" stroke="none"/>
<path d="M666.3 290.9L647.3 294.3L647.3 287.5Z" fill="#000" stroke="none"/>
<text transform="translate(547 283.2) rotate(0)" x="0" y="0" font-size="26" textLength="118" lengthAdjust="spacingAndGlyphs" style="font-family:'Liberation Sans',sans-serif">3.9±0.05</text>
<path d="M416 334L514.5 334" stroke-width="2.0"/>
<path d="M416 588L514.5 588" stroke-width="2.0"/>
<path d="M430 333.8L430 588" stroke-width="2.0"/>
<path d="M429.8 333.8L433.2 352.8L426.4 352.8Z" fill="#000" stroke="none"/>
<path d="M429.8 588L426.4 569L433.2 569Z" fill="#000" stroke="none"/>
<text transform="translate(423.2 515.3) rotate(-90)" x="0" y="0" font-size="28" textLength="109" lengthAdjust="spacingAndGlyphs" style="font-family:'Liberation Sans',sans-serif">8.0±0.10</text>
<path d="M627.9 391L723 391" stroke-width="2.0"/>
<path d="M627.9 532L723 532" stroke-width="2.0"/>
<path d="M710 390.9L710 531.8" stroke-width="2.0"/>
<path d="M710.2 390.9L713.6 409.9L706.8 409.9Z" fill="#000" stroke="none"/>
<path d="M710.2 531.8L706.8 512.8L713.6 512.8Z" fill="#000" stroke="none"/>
<text transform="translate(703.8 481.5) rotate(-90)" x="0" y="0" font-size="26" textLength="40" lengthAdjust="spacingAndGlyphs" style="font-family:'Liberation Sans',sans-serif">4.6</text>
<path d="M573 522.3L573 647.6" stroke-width="2.0"/>
<path d="M622 538.2L622 647.6" stroke-width="2.0"/>
<path d="M533.3 635L761.4 635" stroke-width="2.0"/>
<path d="M573 635.4L554 638.8L554 632Z" fill="#000" stroke="none"/>
<path d="M621.8 635.4L640.8 632L640.8 638.8Z" fill="#000" stroke="none"/>
<text transform="translate(702 627.3) rotate(0)" x="0" y="0" font-size="25" textLength="50" lengthAdjust="spacingAndGlyphs" style="font-family:'Liberation Sans',sans-serif">1.60</text>
<path d="M488 588L488 715.3" stroke-width="2.0"/>
<path d="M487.9 703L666.3 703" stroke-width="2.0"/>
<path d="M487.9 702.9L506.9 699.5L506.9 706.3Z" fill="#000" stroke="none"/>
<path d="M666.3 702.9L647.3 706.3L647.3 699.5Z" fill="#000" stroke="none"/>
<text transform="translate(510.8 695.5) rotate(0)" x="0" y="0" font-size="26" textLength="133" lengthAdjust="spacingAndGlyphs" style="font-family:'Liberation Sans',sans-serif">5.85±0.10</text>
<path d="M940.7 662.3V340H1220.6V352 M1220.6 360.9V561.6 M1220.6 570.5V583 M940.7 583H1220.6 M1220.6 583V662.3" stroke-width="2.0" fill="none"/>
<path d="M847.8 340L934.7 340" stroke-width="2.0"/>
<path d="M847.8 583L934.7 583" stroke-width="2.0"/>
<path d="M861 340L861 583" stroke-width="2.0"/>
<path d="M860.6 340L864 359L857.2 359Z" fill="#000" stroke="none"/>
<path d="M860.6 583L857.2 564L864 564Z" fill="#000" stroke="none"/>
<text transform="translate(853.6 517.4) rotate(-90)" x="0" y="0" font-size="26" textLength="112" lengthAdjust="spacingAndGlyphs" style="font-family:'Liberation Sans',sans-serif">7.7±0.10</text>
<path d="M1050.3 339.8Q1053 334 1054.9 334H1059.7Q1061.6 334 1064.3 339.8" stroke-width="2.0" fill="none"/>
<path d="M1050.3 582.7Q1053 588.8 1054.9 588.8H1059.7Q1061.6 588.8 1064.3 582.7" stroke-width="2.0" fill="none"/>
<path d="M1194.5 339.8Q1197.2 334 1199.1 334H1203.9Q1205.8 334 1208.5 339.8" stroke-width="2.0" fill="none"/>
<path d="M1194.5 582.7Q1197.2 588.8 1199.1 588.8H1203.9Q1205.8 588.8 1208.5 582.7" stroke-width="2.0" fill="none"/>
<path d="M1209.2 340V355.5Q1209.6 360.9 1214.5 360.9H1220.6 M1209.2 352H1220.6" stroke-width="2.0" fill="none"/>
<path d="M1209.2 583V567Q1209.6 561.6 1214.5 561.6H1220.6 M1209.2 570.5H1220.6" stroke-width="2.0" fill="none"/>
<g stroke-width="2.0"><path d="M1067.9 372.2H971.8Q965.8 372.2 965.8 378.2V404.2Q965.8 410.2 971.8 410.2H1067.9A5 5 0 0 0 1067.9 400.2H992A8.95 8.95 0 0 1 992 382.3H1067.9A5.05 5.05 0 0 0 1067.9 372.2Z"/><path d="M992 382.3V400.2M1001.1 382.3V400.2M1007.9 382.3V400.2"/></g>
<g transform="translate(0 922.5) scale(1 -1)" stroke-width="2.0"><path d="M1067.9 372.2H971.8Q965.8 372.2 965.8 378.2V404.2Q965.8 410.2 971.8 410.2H1067.9A5 5 0 0 0 1067.9 400.2H992A8.95 8.95 0 0 1 992 382.3H1067.9A5.05 5.05 0 0 0 1067.9 372.2Z"/><path d="M992 382.3V400.2M1001.1 382.3V400.2M1007.9 382.3V400.2"/></g>
<path d="M971.8 413.9L1094.4 428.9Q1102.3 429.9 1102.3 437.5V485Q1102.3 492.6 1094.4 493.6L971.8 508.6A5.2 5.2 0 0 1 971.8 498.2L1065.1 486.3Q1079.4 484 1079.4 471V451.5Q1079.4 438.5 1065.1 436.2L971.8 424.3A5.2 5.2 0 0 1 971.8 413.9Z M1041.9 433.2V489.3 M1056 435V487.5" stroke-width="2.0" fill="none"/>
<path d="M1169.8 399.5Q1169.8 392.6 1176.5 392.6H1181.5Q1188.2 392.6 1188.2 399.5V441.7Q1188.2 447.6 1181.3 447.6H1156.6Q1149.8 447.6 1149.8 454.5V468.2Q1149.8 474.6 1156.6 474.6H1181.3Q1188.2 474.6 1188.2 481V523.2Q1188.2 530.1 1181.5 530.1H1176.5Q1169.8 530.1 1169.8 523.2V502.1Q1169.8 495.1 1163 495.1H1141Q1134.6 495.1 1134.6 488.4V434.4Q1134.6 428 1141 428H1163Q1169.8 428 1169.8 420.7Z" stroke-width="2.0" fill="none"/>
<path d="M940.7 649L1220.6 649" stroke-width="2.0"/>
<path d="M940.7 649L959.7 645.6L959.7 652.4Z" fill="#000" stroke="none"/>
<path d="M1220.6 649L1201.6 652.4L1201.6 645.6Z" fill="#000" stroke="none"/>
<text transform="translate(1016.4 641.6) rotate(0)" x="0" y="0" font-size="26" textLength="128" lengthAdjust="spacingAndGlyphs" style="font-family:'Liberation Sans',sans-serif">9.20±0.10</text>
<path d="M547.7 836.6V770.4H666.4V1048.7 M595.8 770.4V824.2 M620.5 770.4V824.2 M560.2 824.2V836.6" stroke-width="2.0" fill="none"/>
<path d="M547.7 824.2H620.5Q624.8 824.8 624.8 829.6L621 836.6H545.7V863.7Q545.7 868.1 541 868.1H509A18.3 18.3 0 0 0 509 904.7H546.7Q551.4 906 551.4 911.4Q551.2 916 545.7 919.1V995.3Q551.4 998 551.4 1003.2Q551.2 1009 546.7 1010.7H509.7A19 19 0 0 0 509.7 1048.7H593Q597.7 1048.7 597.7 1044V933.5Q597.7 927.4 603.5 927.4H613.5Q619.3 927.4 619.3 933.5V955Q616 962 617 972Q619 985 617.5 995Q616 1010 617.5 1020Q619.3 1028 619.3 1035V1042.7Q619.3 1048.7 625 1048.7H644.6Q648.4 1048.7 649.2 1043.5Q650 1039.2 653.5 1039.2H666.4 M653.5 1039.2V1048.7H666.4 M597.7 1033.8H617.5" stroke-width="2.0" fill="none"/>
<rect x="514.1" y="878.6" width="31.6" height="15.8" rx="7.9" stroke-width="2"/>
<rect x="514.1" y="1022" width="31.6" height="15.8" rx="7.9" stroke-width="2"/>
<path d="M372 886L522 886" stroke-width="2.0"/>
<path d="M372 1030L522 1030" stroke-width="2.0"/>
<path d="M385 886.1L385 1029.9" stroke-width="2.0"/>
<path d="M385.1 886.1L388.5 905.1L381.7 905.1Z" fill="#000" stroke="none"/>
<path d="M385.1 1029.9L381.7 1010.9L388.5 1010.9Z" fill="#000" stroke="none"/>
<text transform="translate(378.6 990.3) rotate(-90)" x="0" y="0" font-size="26" textLength="62" lengthAdjust="spacingAndGlyphs" style="font-family:'Liberation Sans',sans-serif">4.75</text>
<path d="M434.9 868L509 868" stroke-width="2.0"/>
<path d="M434.9 905L509 905" stroke-width="2.0"/>
<path d="M448 827.1L448 1011.5" stroke-width="2.0"/>
<path d="M447.8 868.1L444.4 849.1L451.2 849.1Z" fill="#000" stroke="none"/>
<path d="M447.8 904.7L451.2 923.7L444.4 923.7Z" fill="#000" stroke="none"/>
<text transform="translate(441.9 1003.2) rotate(-90)" x="0" y="0" font-size="27" textLength="35" lengthAdjust="spacingAndGlyphs" style="font-family:'Liberation Sans',sans-serif">1.3</text>
<path d="M1645.9 389L1918.1 389" stroke-width="2.0"/>
<path d="M1645.9 388.8L1664.9 385.4L1664.9 392.2Z" fill="#000" stroke="none"/>
<path d="M1918.1 388.8L1899.1 392.2L1899.1 385.4Z" fill="#000" stroke="none"/>
<text transform="scale(1.15 1)" x="1530.65" y="381.4" font-size="26.92" text-anchor="middle" style="stroke:#000;stroke-width:0.5">7</text>
<text transform="scale(0.95 1)" x="1868.5" y="381.4" font-size="26.92" text-anchor="middle" style="stroke:#000;stroke-width:0.5">.</text>
<text transform="scale(1.0 1)" x="1789.27" y="381.4" font-size="26.92" text-anchor="middle" style="stroke:#000;stroke-width:0.5">4</text>
<text transform="scale(1.1 1)" x="1639.61" y="381.4" font-size="26.92" text-anchor="middle" style="stroke:#000;stroke-width:0.5">0</text>
<path d="M1645.9 375.7V481.5 M1645.9 487.4V527.5 M1645.9 536.2V546.6 M1645.9 555.3V595.9" stroke-width="2.0" fill="none"/>
<path d="M1645.9 642V679.7 M1645.9 689.2V699.7 M1645.9 708V745.7" stroke-width="2.0" fill="none"/>
<path d="M1918.1 375.7V481.5 M1918.1 487.4V527.5 M1918.1 536.2V546.6 M1918.1 555.3V595.9" stroke-width="2.0" fill="none"/>
<path d="M1918.1 642V679.7 M1918.1 689.2V699.7 M1918.1 708V745.7" stroke-width="2.0" fill="none"/>
<path d="M1555.2 544H1608.8 M1614 544H1652.8 M1660.6 544H1672.8 M1680.2 544H1886.7 M1895.4 544H1906.5 M1914.4 544H1953.3" stroke-width="2.0" fill="none"/>
<path d="M1555.2 689H1608.8 M1614 689H1687.2 M1872 689H1898.8 M1908.3 689H1917.8 M1926.5 689H1953.3" stroke-width="2.0" fill="none"/>
<rect x="1633.7" y="514.8" width="24.4" height="58.8" rx="12.2" stroke-width="2"/>
<rect x="1905.9" y="515" width="24.4" height="58.8" rx="12.2" stroke-width="2"/>
<rect x="1633.7" y="660.1" width="24.4" height="58.8" rx="12.2" stroke-width="2"/>
<rect x="1905.9" y="660.3" width="24.4" height="58.8" rx="12.2" stroke-width="2"/>
<rect x="1724.9" y="508" width="16.4" height="68" fill="url(#hatch)" stroke-width="2"/>
<path d="M1733 469.3L1733 595.1" stroke-width="2.0"/>
<rect x="1749.3" y="508" width="16.4" height="68" fill="url(#hatch)" stroke-width="2"/>
<path d="M1758 469.3L1758 595.1" stroke-width="2.0"/>
<rect x="1774" y="508" width="16.4" height="68" fill="url(#hatch)" stroke-width="2"/>
<path d="M1782 487.2L1782 595.1" stroke-width="2.0"/>
<rect x="1798.5" y="508" width="16.4" height="68" fill="url(#hatch)" stroke-width="2"/>
<path d="M1807 487.2L1807 595.1" stroke-width="2.0"/>
<rect x="1822.9" y="508" width="16.4" height="68" fill="url(#hatch)" stroke-width="2"/>
<path d="M1831 487.2L1831 595.1" stroke-width="2.0"/>
<path d="M1720 544L1845 544" stroke-width="2.0"/>
<text transform="translate(1688.8 437.8) rotate(0)" x="0" y="0" font-size="26" textLength="94" lengthAdjust="spacingAndGlyphs" style="font-family:'Liberation Sans',sans-serif">5-0.50</text>
<path d="M1687.2 445L1878.9 445" stroke-width="2.0"/>
<path d="M1822.3 444.9L1803.3 448.3L1803.3 441.5Z" fill="#000" stroke="none"/>
<path d="M1839 444.9L1858 441.5L1858 448.3Z" fill="#000" stroke="none"/>
<path d="M1822 431L1822 501.4" stroke-width="2.0"/>
<path d="M1839 431L1839 501.4" stroke-width="2.0"/>
<text transform="translate(1534.1 475.3) rotate(0)" x="0" y="0" font-size="26" textLength="93" lengthAdjust="spacingAndGlyphs" style="font-family:'Liberation Sans',sans-serif">4-0.80</text>
<path d="M1532 482L1797.7 482" stroke-width="2.0"/>
<path d="M1733.1 482L1714.1 485.4L1714.1 478.6Z" fill="#000" stroke="none"/>
<path d="M1757.5 482L1776.5 478.6L1776.5 485.4Z" fill="#000" stroke="none"/>
<path d="M1845.1 507L1892.8 507" stroke-width="2.0"/>
<path d="M1845.1 576L1892.8 576" stroke-width="2.0"/>
<path d="M1880 507.4L1880 660.5" stroke-width="2.0"/>
<path d="M1880.4 507.4L1883.8 526.4L1877 526.4Z" fill="#000" stroke="none"/>
<path d="M1880.4 576L1877 557L1883.8 557Z" fill="#000" stroke="none"/>
<text transform="translate(1873.9 653.9) rotate(-90)" x="0" y="0" font-size="27" textLength="40" lengthAdjust="spacingAndGlyphs" style="font-family:'Liberation Sans',sans-serif">2.2</text>
<path d="M1925 515L1985.6 515" stroke-width="2.0"/>
<path d="M1925 573L1985.6 573" stroke-width="2.0"/>
<path d="M1972 399.7L1972 573.2" stroke-width="2.0"/>
<path d="M1972.5 514.9L1975.9 533.9L1969.1 533.9Z" fill="#000" stroke="none"/>
<path d="M1972.5 573.2L1969.1 554.2L1975.9 554.2Z" fill="#000" stroke="none"/>
<text transform="translate(1965.3 494.2) rotate(-90)" x="0" y="0" font-size="26" textLength="92" lengthAdjust="spacingAndGlyphs" style="font-family:'Liberation Sans',sans-serif">4-1.88</text>
<path d="M1568 544L1568 689" stroke-width="2.0"/>
<path d="M1568.3 544L1571.7 563L1564.9 563Z" fill="#000" stroke="none"/>
<path d="M1568.3 689L1564.9 670L1571.7 670Z" fill="#000" stroke="none"/>
<text transform="translate(1561.4 647.4) rotate(-90)" x="0" y="0" font-size="26" textLength="62" lengthAdjust="spacingAndGlyphs" style="font-family:'Liberation Sans',sans-serif">4.75</text>
<text transform="scale(0.85 1)" x="2027.05" y="793.3" font-size="33.28" text-anchor="middle" style="stroke:#000;stroke-width:0.6">P</text>
<text transform="scale(0.73 1)" x="2381.73" y="793.3" font-size="33.28" text-anchor="middle" style="stroke:#000;stroke-width:0.7">C</text>
<text transform="scale(0.7 1)" x="2506.26" y="793.3" font-size="33.28" text-anchor="middle" style="stroke:#000;stroke-width:0.74">B</text>
<text transform="scale(0.79 1)" x="2260.61" y="793.3" font-size="33.28" text-anchor="middle" style="stroke:#000;stroke-width:0.61">L</text>
<text transform="scale(0.59 1)" x="3052.72" y="793.3" font-size="33.28" text-anchor="middle" style="stroke:#000;stroke-width:0.89">A</text>
<text transform="scale(0.6 1)" x="3028.22" y="793.3" font-size="33.28" text-anchor="middle" style="stroke:#000;stroke-width:0.88">Y</text>
<text transform="scale(0.65 1)" x="2819.15" y="793.3" font-size="33.28" text-anchor="middle" style="stroke:#000;stroke-width:0.81">O</text>
<text transform="scale(0.61 1)" x="3029.69" y="793.3" font-size="33.28" text-anchor="middle" style="stroke:#000;stroke-width:0.87">U</text>
<text transform="scale(0.72 1)" x="2588.55" y="793.3" font-size="33.28" text-anchor="middle" style="stroke:#000;stroke-width:0.71">T</text>
</svg>
</body></html>
